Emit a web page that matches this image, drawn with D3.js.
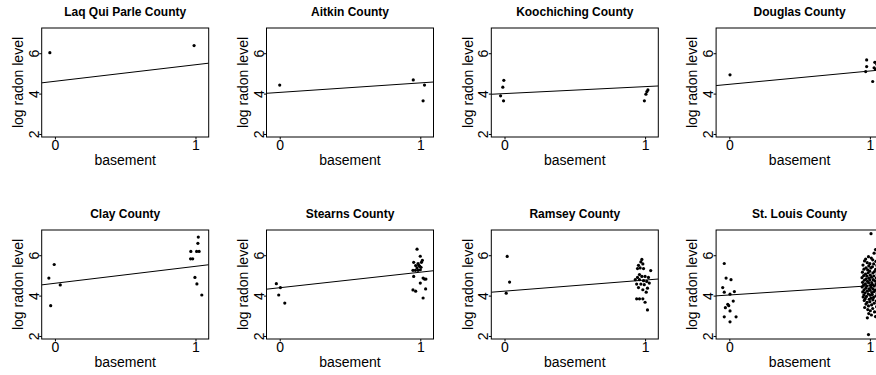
<!DOCTYPE html>
<html>
<head>
<meta charset="utf-8">
<script src="https://cdn.jsdelivr.net/npm/d3@7"></script>
<style>
  body { margin: 0; background: #fff; }
  svg { font-family: "Liberation Sans", Arial, sans-serif; display: block; }
</style>
</head>
<body>
<div id="chart-container"></div>
<script>
// county panels
const counties = ["Laq Qui Parle County", "Aitkin County", "Koochiching County", "Douglas County",
                  "Clay County", "Stearns County", "Ramsey County", "St. Louis County"];
const intercepts = [4.61, 4.06, 4.00, 4.46, 4.61, 4.39, 4.22, 4.03];
const slopes = [0.82, 0.47, 0.345, 0.66, 0.84, 0.77, 0.55, 0.457];

const xTicks = [0, 1];
const yTicks = [2, 4, 6];
const xLabel = "basement";
const yLabel = "log radon level";

// [jittered basement, log radon]
const laqQuiParle = [[-0.036, 6.03], [0.99, 6.38]];
const aitkin = [[0.0, 4.42], [0.95, 4.68], [1.03, 4.42], [1.02, 3.64]];
const koochiching = [[-0.028, 3.89], [-0.012, 4.32], [-0.005, 4.66], [-0.007, 3.64],
  [0.995, 3.64], [1.006, 3.97], [1.013, 4.1], [1.02, 4.18]];
const douglas = [[0.005, 4.93], [0.977, 5.67], [0.977, 5.34], [0.97, 5.09], [1.02, 4.6],
  [1.035, 5.55], [1.03, 5.28], [1.04, 5.2], [1.05, 5.45], [1.06, 5.3]];
const clay = [[-0.043, 4.87], [-0.005, 5.54], [-0.03, 3.5], [0.038, 4.53],
  [0.967, 6.19], [0.965, 5.82], [0.98, 5.82], [1.008, 6.19], [1.026, 6.19], [1.017, 6.59],
  [1.02, 6.9], [0.996, 4.9], [1.01, 4.58], [1.045, 4.03]];
const stearns = [[-0.024, 4.59], [0.005, 4.4], [-0.007, 4.03], [0.036, 3.63],
  [0.977, 6.3], [1.0, 5.95], [1.015, 5.75], [1.008, 5.65], [0.953, 5.65], [0.984, 5.59],
  [0.967, 5.49], [0.996, 5.45], [0.977, 5.37], [0.948, 5.25], [0.965, 5.25], [0.984, 5.25],
  [1.0, 5.28], [0.99, 5.5], [1.005, 5.4], [0.953, 4.95], [1.02, 4.87], [1.03, 4.82],
  [1.04, 4.82], [1.0, 4.62], [0.948, 4.28], [0.967, 4.22], [1.038, 4.33], [1.02, 3.88]];
const ramsey = [[0.019, 5.94], [0.036, 4.67], [0.012, 4.12],
  [0.977, 5.79], [0.97, 5.67], [0.984, 5.57], [0.953, 5.5], [0.965, 5.37], [0.946, 5.34],
  [0.989, 5.34], [1.04, 5.24], [0.96, 5.04], [0.977, 4.95], [1.0, 4.95], [0.946, 4.9],
  [1.024, 4.9], [0.96, 4.79], [0.989, 4.74], [0.93, 4.79], [1.012, 4.7], [0.94, 4.57],
  [0.97, 4.57], [0.994, 4.54], [1.03, 4.62], [0.953, 4.4], [1.017, 4.37], [0.984, 4.29],
  [1.008, 4.17], [0.94, 3.84], [0.96, 3.84], [0.984, 3.84], [1.0, 3.67], [1.017, 3.29]];
const stLouis = [[-0.036, 5.59], [-0.023, 4.87], [0.012, 4.79], [-0.047, 4.4], [-0.036, 4.17],
  [0.005, 4.07], [0.036, 4.2], [0.028, 3.73], [-0.011, 3.57], [-0.028, 3.4], [-0.004, 3.5],
  [0.005, 3.24], [-0.036, 2.95], [0.048, 2.95], [0.005, 2.7],
  [1.008, 7.07], [0.99, 2.07], [1.04, 6.28], [1.03, 6.1], [0.99, 5.93], [1.01, 5.86],
  [0.97, 5.81], [1.02, 5.77], [0.962, 5.72], [1.043, 5.7], [0.981, 5.63], [1.0, 5.58],
  [1.027, 5.57], [0.951, 5.51], [1.05, 5.49], [0.992, 5.47], [1.018, 5.43], [0.973, 5.38],
  [1.007, 5.37], [0.958, 5.31], [1.041, 5.3], [0.984, 5.27], [0.999, 5.21], [1.032, 5.19],
  [0.947, 5.16], [0.988, 5.13], [1.021, 5.12], [0.969, 5.07], [1.052, 5.06], [1.003, 5.01],
  [0.956, 4.99], [1.028, 4.97], [0.979, 4.96], [1.011, 4.91], [0.944, 4.89], [1.046, 4.87],
  [0.993, 4.86], [0.972, 4.82], [1.024, 4.79], [1.0, 4.77], [0.961, 4.76], [1.035, 4.73],
  [0.983, 4.7], [1.055, 4.69], [0.948, 4.66], [1.013, 4.64], [0.991, 4.63], [1.044, 4.59],
  [0.968, 4.58], [1.019, 4.55], [0.955, 4.52], [1.004, 4.51], [1.031, 4.48], [0.978, 4.47],
  [0.945, 4.43], [1.009, 4.41], [1.053, 4.39], [0.971, 4.37], [0.994, 4.34], [1.022, 4.33],
  [0.959, 4.29], [1.039, 4.27], [1.001, 4.26], [0.982, 4.22], [1.029, 4.2], [0.949, 4.18],
  [1.014, 4.15], [0.966, 4.14], [1.051, 4.11], [0.989, 4.08], [1.017, 4.06], [0.957, 4.03],
  [1.002, 4.02], [1.042, 3.98], [0.976, 3.96], [0.952, 3.93], [1.026, 3.91], [1.008, 3.88],
  [0.967, 3.85], [0.995, 3.82], [1.021, 3.79], [0.96, 3.76], [1.045, 3.73], [1.0, 3.7],
  [0.98, 3.66], [1.03, 3.62], [0.972, 3.58], [1.012, 3.54], [0.99, 3.49], [1.048, 3.45],
  [0.963, 3.41], [1.02, 3.36], [0.985, 3.31], [1.003, 3.25], [1.033, 3.19], [0.992, 3.11],
  [1.011, 3.04], [1.04, 2.96], [0.982, 2.9]];
const countyPoints = [laqQuiParle, aitkin, koochiching, douglas, clay, stearns, ramsey, stLouis];

const svg = d3.select("#chart-container").append("svg")
  .attr("width", 876).attr("height", 375);

const pw = 167, ph = 109;
const x = d3.scaleLinear().domain([-0.094, 1.094]).range([0, pw]);
const y = d3.scaleLinear().domain([1.85, 7.25]).range([ph, 0]);

svg.append("defs").append("clipPath").attr("id", "plotclip")
  .append("rect").attr("width", pw).attr("height", ph);

counties.forEach((name, i) => {
  const col = i % 4, row = Math.floor(i / 4);
  const g = svg.append("g")
    .attr("transform", `translate(${41.7 + 224.8 * col},${28 + 202 * row})`);

  g.append("text")
    .attr("x", pw / 2).attr("y", -12.5)
    .attr("text-anchor", "middle")
    .style("font-size", "12px").style("font-weight", "bold")
    .text(name);

  const ya = g.append("g").call(d3.axisLeft(y).tickValues(yTicks).tickSize(2.5).tickFormat(d3.format("d")));
  ya.select(".domain").remove();
  ya.selectAll("line").attr("stroke", "#000");
  ya.selectAll("text")
    .attr("x", null).attr("dy", null)
    .attr("transform", "translate(-3,0) rotate(-90)")
    .attr("text-anchor", "middle")
    .style("font-size", "14px").style("font-family", "Liberation Sans, Arial, sans-serif")
    .attr("fill", "#000");

  const xa = g.append("g").attr("transform", `translate(0,${ph})`)
    .call(d3.axisBottom(x).tickValues(xTicks).tickSize(2.5).tickFormat(d3.format("d")));
  xa.select(".domain").remove();
  xa.selectAll("line").attr("stroke", "#000");
  xa.selectAll("text")
    .attr("y", 13).attr("dy", null)
    .style("font-size", "14px").style("font-family", "Liberation Sans, Arial, sans-serif")
    .attr("fill", "#000");

  g.append("text")
    .attr("x", pw / 2).attr("y", ph + 27.5)
    .attr("text-anchor", "middle").style("font-size", "14px")
    .text(xLabel);

  g.append("text")
    .attr("transform", `translate(-18.7,${ph / 2}) rotate(-90)`)
    .attr("text-anchor", "middle").style("font-size", "14px")
    .text(yLabel);

  const xd = x.domain();
  g.append("line")
    .attr("clip-path", "url(#plotclip)")
    .attr("x1", x(xd[0])).attr("y1", y(intercepts[i] + slopes[i] * xd[0]))
    .attr("x2", x(xd[1])).attr("y2", y(intercepts[i] + slopes[i] * xd[1]))
    .attr("stroke", "#000").attr("stroke-width", 1);

  g.selectAll("circle").data(countyPoints[i]).enter().append("circle")
    .attr("cx", d => x(d[0])).attr("cy", d => y(d[1]))
    .attr("r", 1.6).attr("fill", "#000");

  g.append("rect")
    .attr("width", pw).attr("height", ph)
    .attr("fill", "none").attr("stroke", "#000").attr("stroke-width", 1);
});
</script>
</body>
</html>
